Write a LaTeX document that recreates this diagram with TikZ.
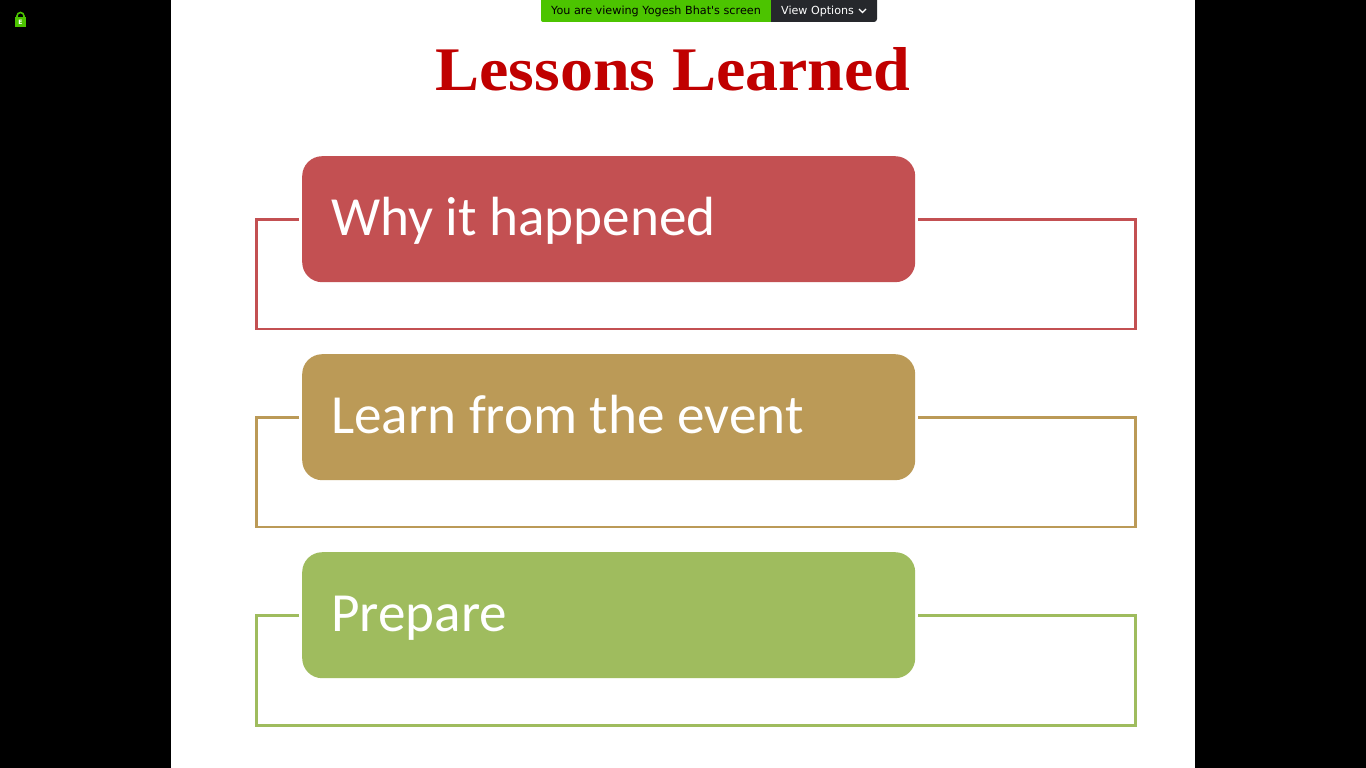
\documentclass[tikz,border=0pt]{standalone}
\usepackage{fontspec}
\setmainfont{Carlito}
\newfontfamily\titlefont[FakeStretch=1.065]{Liberation Serif}
\newfontfamily\barfont{DejaVu Sans}
\definecolor{redbox}{HTML}{C35052}
\definecolor{tanbox}{HTML}{BB9A57}
\definecolor{greenbox}{HTML}{9FBC5E}
\definecolor{bargreen}{HTML}{4CC400}
\definecolor{bardark}{HTML}{26282C}
\definecolor{titlered}{HTML}{C00000}
\tikzset{
  x=1pt,y=-1pt,
  bannerbox/.style={draw=none,rounded corners=20pt,minimum width=613pt,minimum height=126pt,inner sep=0pt,anchor=north west},
  bannertext/.style={text=white,anchor=base west,inner sep=0pt,font=\fontsize{55.2}{55}\selectfont},
  framer/.style={line width=2.8pt,line join=miter,line cap=butt},
}
\begin{document}
\begin{tikzpicture}
\useasboundingbox (0,0) rectangle (1366,768);
\fill[black] (0,0) rectangle (1366,768);
\fill[white] (171,0) rectangle (1195,768);
% lock
\fill[bargreen] (15,17) rectangle (26,27);
\draw[bargreen,line width=1.6pt] (17,17.5) -- (17,16) arc[start angle=180,end angle=360,radius=3.5] -- (24,17.5);
\node[text=white,inner sep=0pt,font=\barfont\bfseries\fontsize{6}{6}\selectfont] (lock) at (20.5,22.2) {E};
% top bar
\fill[bargreen,rounded corners=2pt] (541,-4) rectangle (780,22);
\fill[bardark,rounded corners=3pt] (771,-4) rectangle (877,22);
\fill[bardark] (771,-4) rectangle (780,22);
\node[anchor=base west,inner sep=0pt,text=black,font=\barfont\fontsize{11.2}{11}\selectfont] (viewing) at (551,15) {You are viewing Yogesh Bhat's screen};
\node[anchor=base west,inner sep=0pt,text=white,font=\barfont\fontsize{11.1}{11}\selectfont] (options) at (781,15) {View Options};
\draw[white,line width=1.1pt] (859,9) -- (862.5,12.5) -- (866,9);
% title
\node[anchor=base,inner sep=0pt,text=titlered,font=\titlefont\bfseries\fontsize{62}{62}\selectfont] (title) at (673,90) {Lessons Learned};
% boxes
\node[bannerbox,fill=redbox] (b1) at (302,156) {};
\node[bannerbox,fill=tanbox] (b2) at (302,354) {};
\node[bannerbox,fill=greenbox] (b3) at (302,552) {};
\node[bannertext] (t1) at (331,235) {Why it happened};
\node[bannertext] (t2) at (331,433) {Learn from the event};
\node[bannertext] (t3) at (331,631) {Prepare};
% frames
\coordinate (l1) at (299,219.8); \coordinate (r1) at (918,219.8);
\coordinate (l2) at (299,417.8); \coordinate (r2) at (918,417.8);
\coordinate (l3) at (299,615.8); \coordinate (r3) at (918,615.8);
\draw[framer,redbox] (l1) -- (256.4,219.8) -- (256.4,329) -- (1135.5,329) -- (1135.5,219.8) -- (r1);
\draw[framer,tanbox] (l2) -- (256.4,417.8) -- (256.4,527) -- (1135.5,527) -- (1135.5,417.8) -- (r2);
\draw[framer,greenbox] (l3) -- (256.4,615.8) -- (256.4,725.2) -- (1135.5,725.2) -- (1135.5,615.8) -- (r3);
\end{tikzpicture}
\end{document}
